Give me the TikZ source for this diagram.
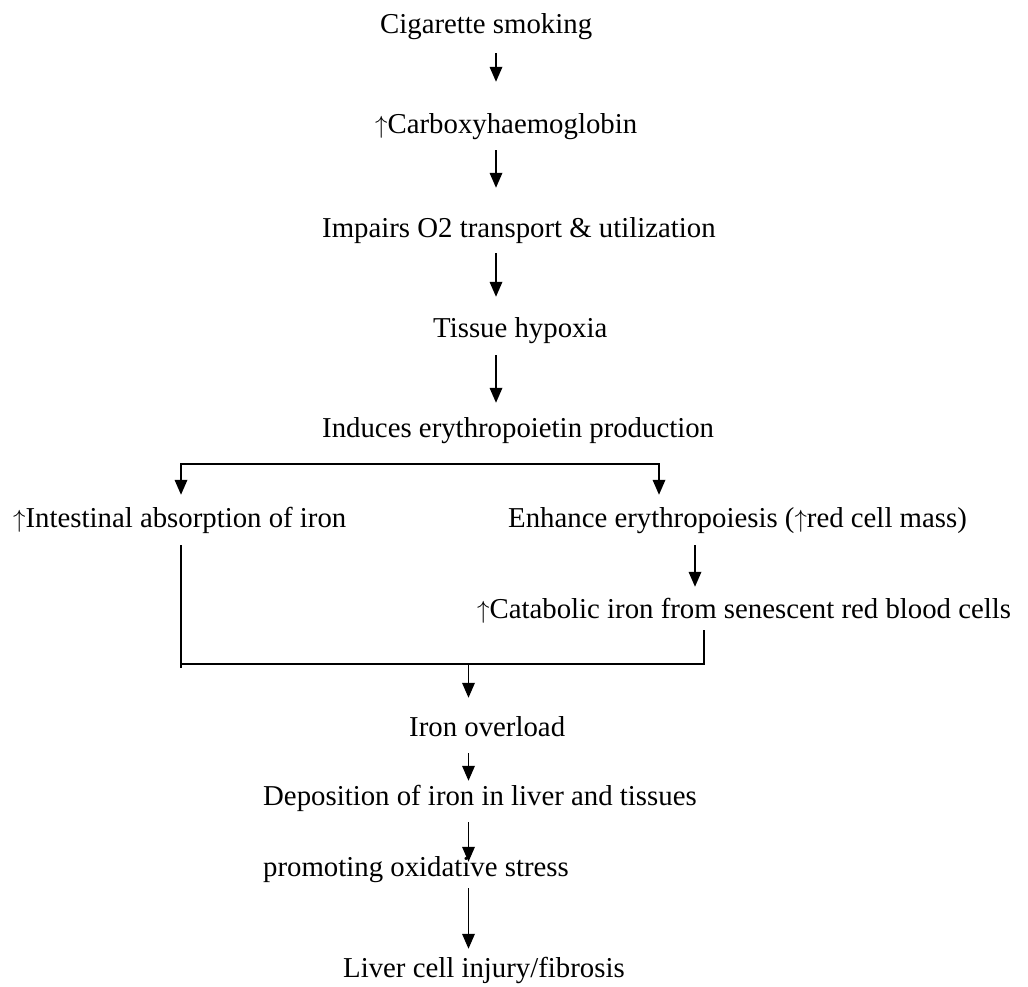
\documentclass[tikz,border=0pt]{standalone}
\usepackage{fontspec}
\setmainfont{Liberation Serif}
\usetikzlibrary{arrows.meta}
\newcommand{\upar}{\ensuremath{\uparrow}}
\begin{document}
\begin{tikzpicture}[x=1pt,y=-1pt,
  lbl/.style={anchor=base west, inner sep=0pt, text height=20pt, text depth=7pt,
              font=\fontsize{28.8}{34}\selectfont},
  conn/.style={line width=1.8pt},
  arr/.style={conn, -{Triangle[length=15pt,width=12.5pt]}}]
\useasboundingbox (0,0) rectangle (1028,986);
% nodes
\node[lbl] (cig) at (380,33) {Cigarette smoking};
\node[lbl] (carb) at (375,133) {\upar Carboxyhaemoglobin};
\node[lbl] (imp) at (322,237) {Impairs O2 transport \& utilization};
\node[lbl] (tis) at (433,337) {Tissue hypoxia};
\node[lbl] (ind) at (322,437) {Induces erythropoietin production};
\node[lbl] (int) at (13,527) {\upar Intestinal absorption of iron};
\node[lbl] (enh) at (508,527) {Enhance erythropoiesis (\upar red cell mass)};
\node[lbl] (cat) at (477,618) {\upar Catabolic iron from senescent red blood cells};
\node[lbl] (iron) at (409,736) {Iron overload};
\node[lbl] (dep) at (263,805) {Deposition of iron in liver and tissues};
\node[lbl] (prom) at (263,876) {promoting oxidative stress};
\node[lbl] (liv) at (343,977) {Liver cell injury/fibrosis};
% columns and junctions
\coordinate (colA) at (496,0);
\coordinate (colB) at (468.5,0);
\coordinate (colE) at (695,0);
\coordinate (bl) at (181,464);
\coordinate (br) at (659,464);
\coordinate (jl) at (181,664);
\coordinate (jlend) at (181,668);
\coordinate (jr) at (704,664);
\coordinate (jm) at (468.5,664);
% main chain
\draw[arr, shorten <=13pt, shorten >=31pt] (cig.south -| colA) -- (carb.north -| colA);
\draw[arr, shorten <=10pt, shorten >=29pt] (carb.south -| colA) -- (imp.north -| colA);
\draw[arr, shorten <=9pt, shorten >=20pt] (imp.south -| colA) -- (tis.north -| colA);
\draw[arr, shorten <=11pt, shorten >=14pt] (tis.south -| colA) -- (ind.north -| colA);
% branch
\draw[arr, shorten >=12pt] (br) -- (bl) -- (int.north -| bl);
\draw[arr, shorten >=12pt] (bl) -- (br) -- (enh.north -| br);
\draw[arr, shorten <=11pt, shorten >=11pt] (enh.south -| colE) -- (cat.north -| colE);
% merge
\draw[conn, shorten <=11pt] (int.south -| jl) -- (jlend);
\draw[conn, shorten >=5pt] (jl) -- (jr) -- (cat.south -| jr);
\draw[arr, shorten >=18pt] (jm) -- (iron.north -| jm);
% lower chain
\draw[arr, shorten <=10pt, shorten >=4pt] (iron.south -| colB) -- (dep.north -| colB);
\draw[arr, shorten <=10pt, shorten >=-6pt] (dep.south -| colB) -- (prom.north -| colB);
\draw[arr, shorten <=5pt, shorten >=8pt] (prom.south -| colB) -- (liv.north -| colB);
\end{tikzpicture}
\end{document}
